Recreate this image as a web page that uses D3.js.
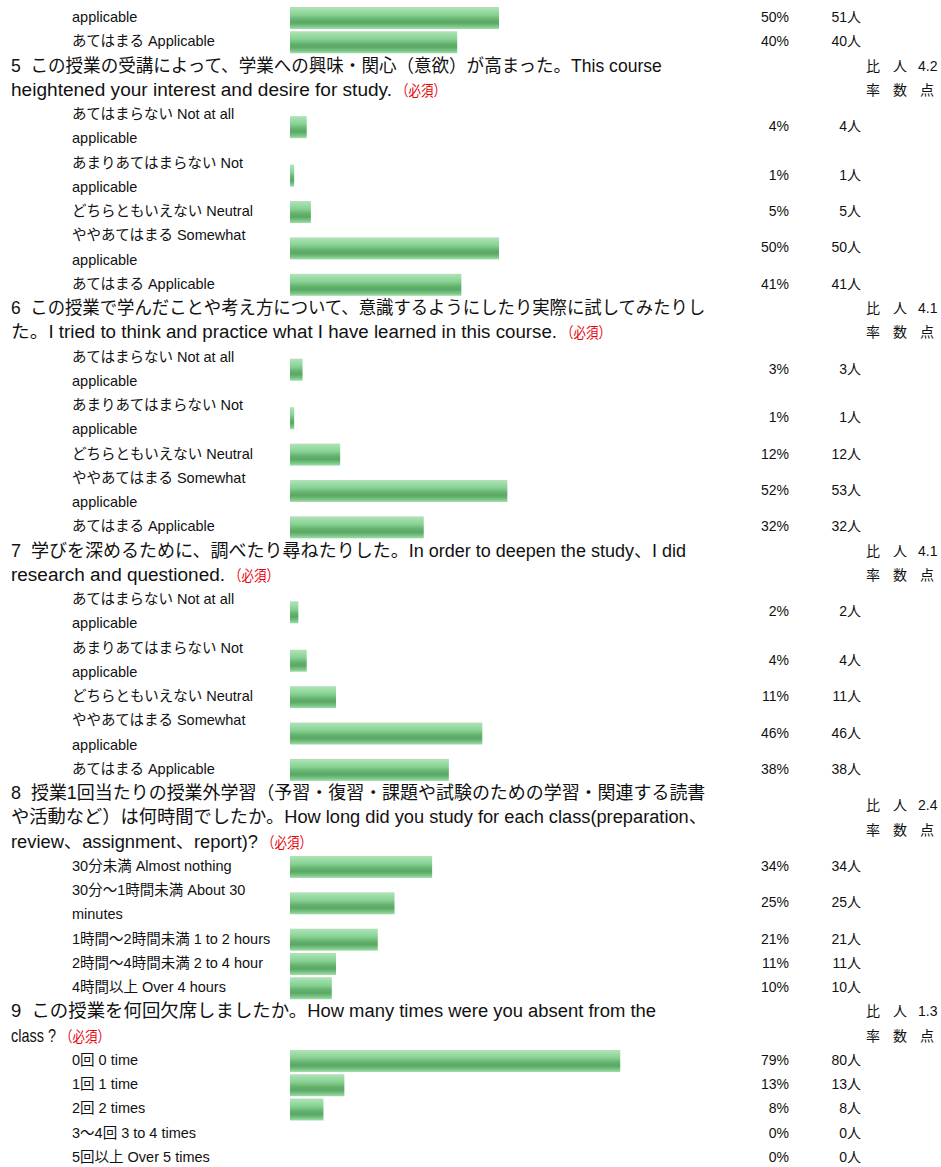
<!DOCTYPE html>
<html>
<head>
<meta charset="utf-8">
<script src="https://cdn.jsdelivr.net/npm/d3@7"></script>
<style>
  body { margin: 0; background: #fff; }
  text { font-family: "Liberation Sans", Arial, "Noto Sans CJK JP", sans-serif; fill: #111; white-space: pre; }
</style>
</head>
<body>
<div id="chart"></div>
<script>
var width = 941, height = 1167;

// Define data

var scaleLabels = [
  ["あてはまらない Not at all", "applicable"],
  ["あまりあてはまらない Not", "applicable"],
  ["どちらともいえない Neutral"],
  ["ややあてはまる Somewhat", "applicable"],
  ["あてはまる Applicable"]
];
var studyLabels = [
  ["30分未満 Almost nothing"],
  ["30分～1時間未満 About 30", "minutes"],
  ["1時間～2時間未満 1 to 2 hours"],
  ["2時間～4時間未満 2 to 4 hour"],
  ["4時間以上 Over 4 hours"]
];
var absentLabels = [
  ["0回 0 time"],
  ["1回 1 time"],
  ["2回 2 times"],
  ["3～4回 3 to 4 times"],
  ["5回以上 Over 5 times"]
];

var q4Labels = [["applicable"], ["あてはまる Applicable"]];
var q4Pct = [50, 40];
var q4Count = [51, 40];

var q5Lines = ["5  この授業の受講によって、学業への興味・関心（意欲）が高まった。This course",
               "heightened your interest and desire for study."];
var q5Pct = [4, 1, 5, 50, 41];
var q5Count = [4, 1, 5, 50, 41];

var q6Lines = ["6  この授業で学んだことや考え方について、意識するようにしたり実際に試してみたりし",
               "た。I tried to think and practice what I have learned in this course."];
var q6Pct = [3, 1, 12, 52, 32];
var q6Count = [3, 1, 12, 53, 32];

var q7Lines = ["7  学びを深めるために、調べたり尋ねたりした。In order to deepen the study、I did",
               "research and questioned."];
var q7Pct = [2, 4, 11, 46, 38];
var q7Count = [2, 4, 11, 46, 38];

var q8Lines = ["8  授業1回当たりの授業外学習（予習・復習・課題や試験のための学習・関連する読書",
               "や活動など）は何時間でしたか。How long did you study for each class(preparation、",
               "review、assignment、report)?"];
var q8Pct = [34, 25, 21, 11, 10];
var q8Count = [34, 25, 21, 11, 10];

var q9Lines = ["9  この授業を何回欠席しましたか。How many times were you absent from the",
               "class ?"];
var q9Pct = [79, 13, 8, 0, 0];
var q9Count = [80, 13, 8, 0, 0];

var scores = ["4.2", "4.1", "4.1", "2.4", "1.3"];
var required = "（必須）";

// line widths of the wrapped question text, as drawn in the original
var qLineWidths = [[651, 381], [695, 546], [675, 214], [695, 696, 247], [645, 45]];

// Build blocks

var blocks = [
  {lines: null, labels: q4Labels, pct: q4Pct, count: q4Count},
  {lines: q5Lines, score: scores[0], labels: scaleLabels, pct: q5Pct, count: q5Count},
  {lines: q6Lines, score: scores[1], labels: scaleLabels, pct: q6Pct, count: q6Count},
  {lines: q7Lines, score: scores[2], labels: scaleLabels, pct: q7Pct, count: q7Count},
  {lines: q8Lines, score: scores[3], labels: studyLabels, pct: q8Pct, count: q8Count},
  {lines: q9Lines, score: scores[4], labels: absentLabels, pct: q9Pct, count: q9Count}
];

var questions = [], rows = [];
var lineNo = 0;
blocks.forEach(function(b) {
  if (b.lines) {
    questions.push({lines: b.lines, score: b.score, start: lineNo, widths: qLineWidths[questions.length]});
    lineNo += b.lines.length;
  }
  b.labels.forEach(function(lab, i) {
    rows.push({label: lab, pct: b.pct[i], count: b.count[i], start: lineNo});
    lineNo += lab.length;
  });
});

// Scales

var yScale = d3.scaleLinear()
    .domain([0, lineNo - 1])
    .range([17, 1157]);

var xScale = d3.scaleLinear()
    .domain([0, 100])
    .range([290, 708]);

var svg = d3.select("#chart")
    .append("svg")
    .attr("width", width)
    .attr("height", height);

// bar gradient
var grad = svg.append("defs").append("linearGradient")
    .attr("id", "barGrad")
    .attr("x1", 0).attr("y1", 0).attr("x2", 0).attr("y2", 1);
[[0, "#bcd9bf"], [0.06, "#a8e2b2"], [0.35, "#88d294"], [0.58, "#63b16d"],
 [0.72, "#5ba866"], [0.88, "#78c684"], [1, "#a4dcac"]].forEach(function(s) {
  grad.append("stop").attr("offset", s[0]).attr("stop-color", s[1]);
});

// place a text at x,y and fit it to a width:
// stretch with textLength, squeeze horizontally with a scale
function fitText(t, x, y, w) {
  var natural = t.node().getComputedTextLength();
  if (natural > w) {
    t.attr("transform", "translate(" + x + "," + y + ") scale(" + (w / natural) + ",1)");
  } else {
    t.attr("transform", "translate(" + x + "," + y + ")")
      .attr("textLength", w).attr("lengthAdjust", "spacingAndGlyphs");
  }
}

// Draw questions

var qg = svg.selectAll("g.question")
    .data(questions)
    .enter().append("g")
    .attr("class", "question");

qg.each(function(q) {
  var g = d3.select(this);
  q.lines.forEach(function(line, i) {
    var y = yScale(q.start + i) + 6;
    var t = g.append("text")
      .style("font-size", "18px")
      .text(line);
    fitText(t, 11, y, q.widths[i]);
    if (i === q.lines.length - 1) {
      var r = g.append("text")
        .style("fill", "#e8000b")
        .style("font-size", "15px")
        .text(required);
      fitText(r, 11 + q.widths[i] + 4, y, 50);
    }
  });
  var mid = q.start + (q.lines.length - 1) / 2;
  var hy = yScale(mid - 0.5) + 5, hy2 = yScale(mid + 0.5) + 5;
  g.append("text").attr("x", 866).attr("y", hy).style("font-size", "14px").text("比");
  g.append("text").attr("x", 893).attr("y", hy).style("font-size", "14px").text("人");
  g.append("text").attr("x", 918).attr("y", hy).style("font-size", "14px").text(q.score);
  g.append("text").attr("x", 866).attr("y", hy2).style("font-size", "14px").text("率");
  g.append("text").attr("x", 893).attr("y", hy2).style("font-size", "14px").text("数");
  g.append("text").attr("x", 920).attr("y", hy2).style("font-size", "14px").text("点");
});

// Draw rows

var rg = svg.selectAll("g.row")
    .data(rows)
    .enter().append("g")
    .attr("class", "row");

rg.each(function(r) {
  var g = d3.select(this);
  r.label.forEach(function(line, i) {
    g.append("text")
      .attr("x", 72)
      .attr("y", yScale(r.start + i) + 5)
      .style("font-size", "14.5px")
      .text(line);
  });
});

function rowMid(r) { return yScale(r.start + (r.label.length - 1) / 2); }

rg.filter(function(r) { return r.pct > 0; })
  .append("rect")
    .attr("x", xScale(0))
    .attr("y", function(r) { return rowMid(r) - 10; })
    .attr("width", function(r) { return xScale(r.pct) - xScale(0); })
    .attr("height", 22)
    .attr("fill", "url(#barGrad)");

rg.append("text")
    .attr("x", 789)
    .attr("y", function(r) { return rowMid(r) + 5; })
    .attr("text-anchor", "end")
    .style("font-size", "14px")
    .text(function(r) { return r.pct + "%"; });

rg.append("text")
    .attr("x", 861)
    .attr("y", function(r) { return rowMid(r) + 5; })
    .attr("text-anchor", "end")
    .style("font-size", "14px")
    .text(function(r) { return r.count + "人"; });
</script>
</body>
</html>
